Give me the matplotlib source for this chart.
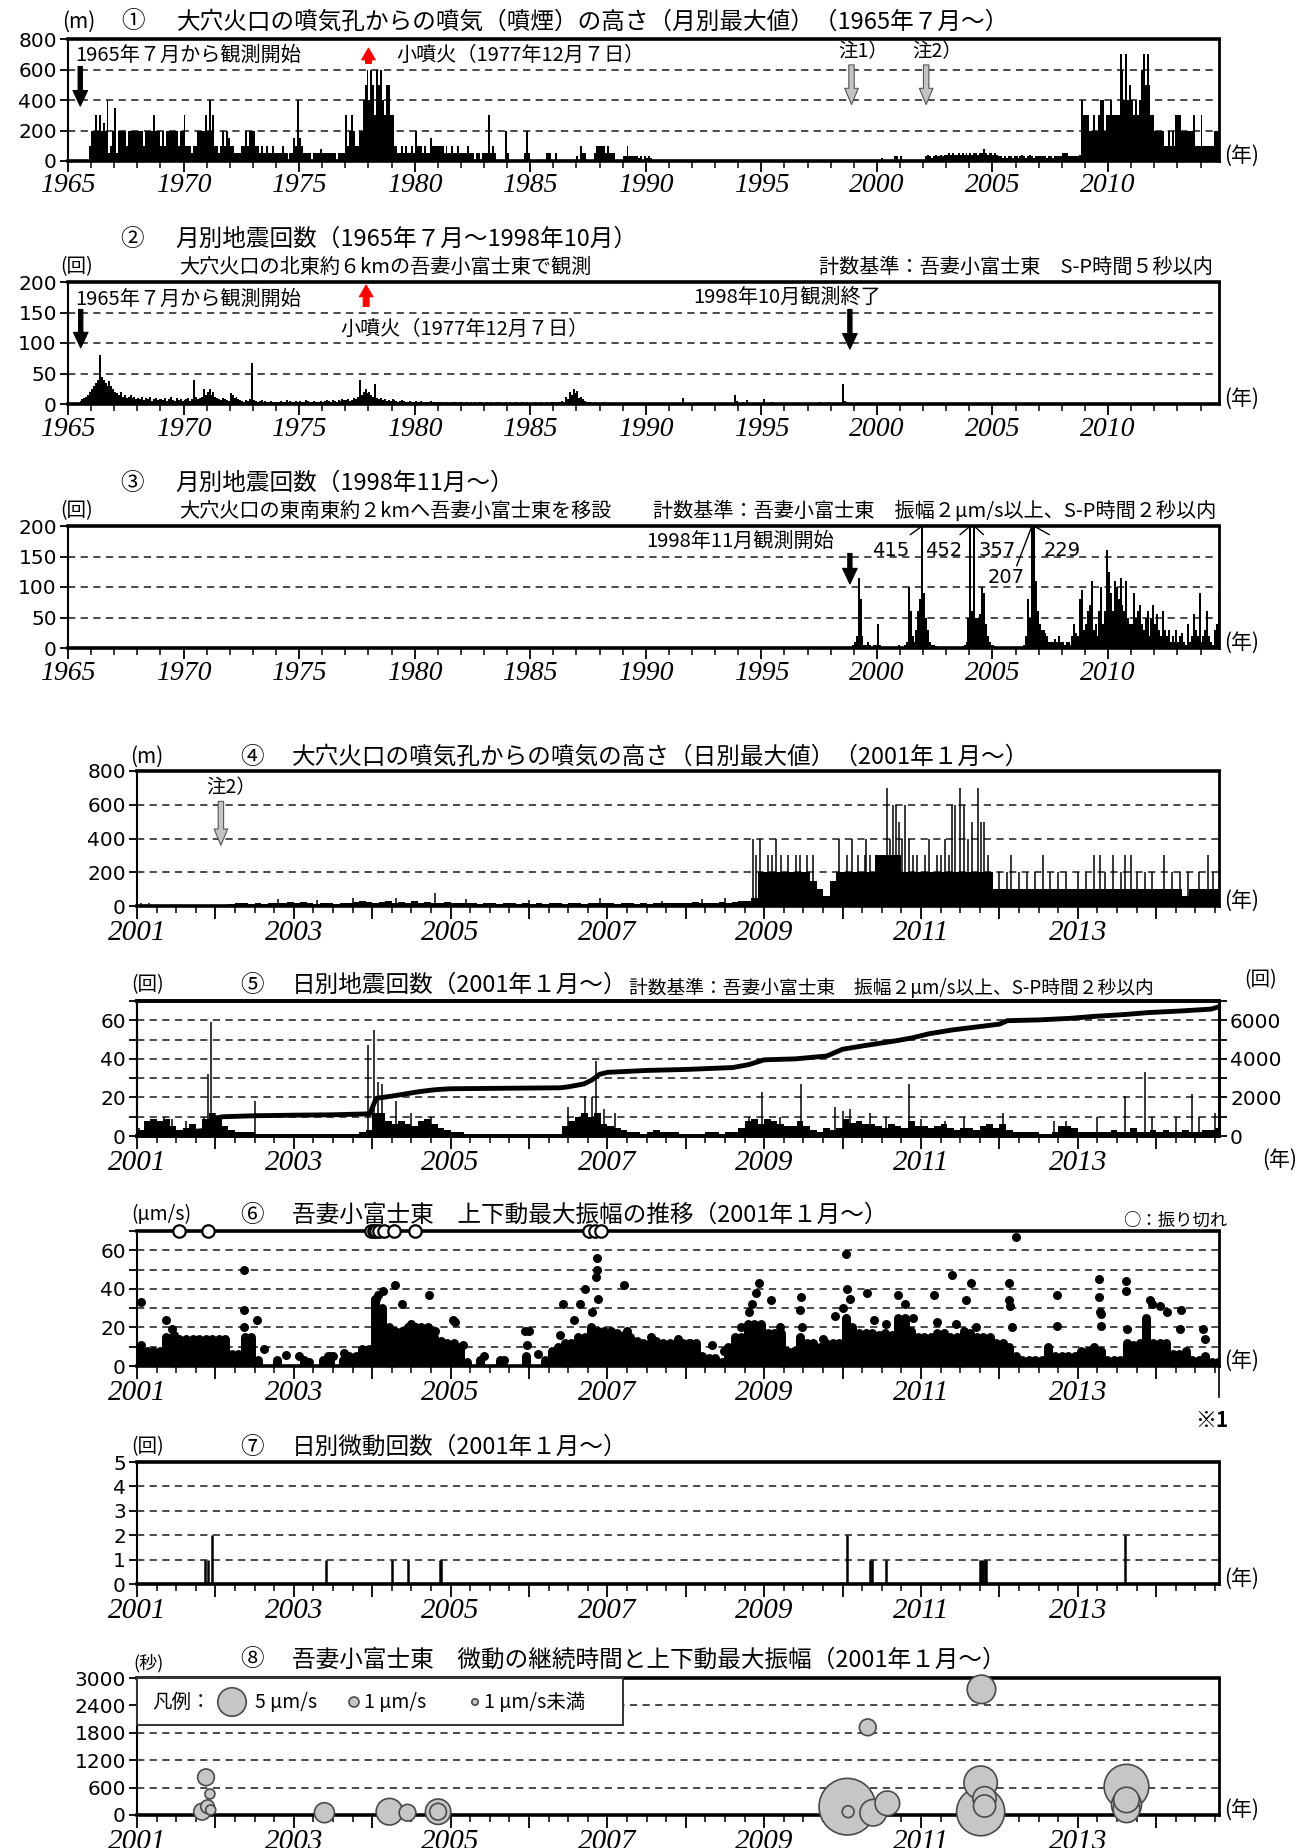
import numpy as np
import matplotlib
matplotlib.use("Agg")
import matplotlib.pyplot as plt
import matplotlib.transforms as mtransforms
from matplotlib.ticker import MultipleLocator
from matplotlib.patches import Rectangle

W, H = 1307, 1848
JP = ["Noto Sans CJK JP", "DejaVu Sans"]
plt.rcParams["font.family"] = JP

# ---------------- data ----------------
# (1) monthly max plume height (m), starting 1965-07
p1_start = 1965.5
p1_height = [
    0, 0, 0, 0, 0, 100,                                      # 1965 Jul-Dec
    200, 200, 300, 200, 300, 200, 250, 200, 400, 50, 100, 200,   # 1966
    350, 50, 200, 200, 200, 200, 100, 200, 200, 200, 200, 200,   # 1967
    200, 200, 200, 100, 200, 200, 200, 200, 300, 200, 200, 200,  # 1968
    100, 200, 100, 200, 200, 200, 200, 200, 200, 100, 200, 200,  # 1969
    300, 100, 100, 100, 50, 100, 100, 200, 200, 200, 200, 300,   # 1970
    200, 400, 200, 300, 100, 100, 50, 100, 200, 100, 200, 150,   # 1971
    100, 100, 50, 50, 50, 50, 100, 100, 200, 100, 200, 200,      # 1972
    200, 100, 100, 50, 100, 50, 50, 100, 50, 50, 100, 50,        # 1973
    50, 50, 50, 100, 50, 50, 0, 50, 50, 150, 100, 400,           # 1974
    150, 100, 50, 50, 50, 50, 0, 50, 50, 50, 50, 80,             # 1975
    50, 50, 50, 50, 50, 50, 50, 0, 50, 50, 50, 50,               # 1976
    300, 100, 200, 300, 200, 100, 100, 200, 200, 400, 500, 600,  # 1977
    400, 600, 500, 300, 600, 500, 600, 400, 300, 500, 500, 300,  # 1978
    300, 100, 100, 50, 50, 100, 50, 100, 50, 50, 100, 50,        # 1979
    200, 100, 100, 100, 50, 100, 50, 50, 150, 100, 100, 100,     # 1980
    100, 100, 100, 50, 100, 50, 50, 100, 50, 50, 100, 50,        # 1981
    50, 50, 50, 100, 50, 50, 50, 0, 50, 50, 0, 50,               # 1982
    50, 50, 300, 50, 100, 50, 0, 0, 0, 0, 0, 200,                # 1983
    50, 0, 0, 0, 0, 0, 0, 0, 0, 50, 200, 50,                     # 1984
    0, 0, 0, 0, 0, 0, 0, 0, 50, 50, 50, 0,                       # 1985
    0, 50, 0, 0, 0, 0, 0, 0, 0, 0, 0, 0,                         # 1986
    30, 0, 100, 50, 50, 0, 0, 0, 0, 50, 100, 100,                # 1987
    100, 100, 100, 50, 100, 50, 50, 50, 0, 0, 0, 0,              # 1988
    30, 30, 100, 30, 30, 30, 30, 30, 20, 30, 0, 30,              # 1989
    20, 30, 20, 0, 0, 0, 0, 0, 0, 0, 0, 0,                       # 1990
    0, 0, 0, 0, 0, 0, 0, 0, 0, 0, 0, 0,                          # 1991
    0, 0, 0, 0, 0, 0, 0, 0, 0, 0, 0, 0,                          # 1992
    0, 0, 0, 0, 0, 0, 0, 0, 0, 0, 0, 0,                          # 1993
    0, 0, 0, 0, 0, 0, 0, 0, 0, 0, 0, 0,                          # 1994
    0, 0, 0, 0, 0, 0, 0, 0, 0, 0, 0, 0,                          # 1995
    0, 0, 0, 0, 0, 0, 0, 0, 0, 0, 0, 0,                          # 1996
    0, 0, 0, 0, 0, 0, 0, 0, 0, 0, 0, 0,                          # 1997
    0, 0, 0, 0, 0, 0, 0, 0, 0, 0, 0, 0,                          # 1998
    0, 0, 0, 0, 0, 0, 0, 0, 0, 0, 0, 0,                          # 1999
    0, 0, 20, 0, 0, 0, 0, 0, 0, 30, 30, 0,                       # 2000
    30, 0, 0, 0, 0, 0, 0, 0, 0, 0, 0, 0,                         # 2001
    0, 30, 40, 30, 20, 30, 40, 30, 30, 40, 30, 40,               # 2002
    40, 50, 40, 50, 40, 40, 50, 40, 50, 40, 50, 40,              # 2003
    50, 40, 50, 50, 40, 50, 50, 80, 50, 40, 50, 50,              # 2004
    40, 50, 40, 30, 30, 20, 30, 20, 30, 30, 20, 30,              # 2005
    30, 20, 30, 40, 30, 20, 30, 40, 30, 20, 30, 30,              # 2006
    30, 30, 30, 30, 20, 30, 30, 20, 30, 30, 30, 30,              # 2007
    50, 50, 50, 30, 30, 30, 30, 30, 30, 40, 400, 300,            # 2008
    300, 300, 200, 200, 300, 200, 200, 300, 400, 400, 200, 300,  # 2009
    300, 400, 300, 300, 300, 300, 700, 600, 400, 700, 400, 500,  # 2010
    400, 300, 400, 300, 400, 600, 700, 500, 700, 500, 300, 300,  # 2011
    200, 200, 200, 200, 200, 100, 100, 200, 100, 200, 100, 300,  # 2012
    300, 300, 200, 200, 200, 200, 200, 200, 300, 100, 100, 100,  # 2013
    300, 100, 100, 100, 100, 100, 100, 200, 200, 200,            # 2014
]

# (2) monthly earthquake count, 1965-07 .. 1998-10
p2_start = 1965.5
p2_count = [
    5, 8, 10, 12, 15, 20,                                    # 1965
    25, 30, 35, 40, 80, 45, 40, 35, 30, 38, 30, 25,          # 1966
    20, 18, 15, 20, 12, 15, 10, 12, 15, 10, 12, 8,           # 1967
    10, 8, 12, 6, 10, 8, 12, 5, 8, 10, 6, 8,                 # 1968
    8, 6, 10, 5, 8, 12, 6, 5, 10, 6, 8, 5,                   # 1969
    6, 8, 10, 5, 8, 40, 12, 8, 10, 12, 25, 15,               # 1970
    20, 25, 15, 20, 12, 10, 8, 6, 10, 8, 6, 5,               # 1971
    18, 15, 10, 12, 8, 6, 5, 4, 6, 5, 8, 67,                 # 1972
    6, 5, 4, 5, 6, 4, 5, 3, 4, 5, 3, 4,                      # 1973
    4, 3, 5, 4, 3, 6, 4, 5, 3, 4, 5, 3,                      # 1974
    5, 4, 3, 6, 5, 4, 3, 5, 4, 3, 4, 5,                      # 1975
    4, 5, 6, 5, 4, 6, 5, 4, 6, 5, 8, 6,                      # 1976
    6, 8, 5, 7, 10, 8, 12, 40, 15, 20, 25, 18,               # 1977
    20, 15, 12, 33, 10, 8, 10, 6, 8, 5, 6, 5,                # 1978
    8, 6, 5, 4, 5, 6, 5, 4, 3, 5, 4, 3,                      # 1979
    5, 4, 3, 5, 4, 3, 4, 3, 5, 4, 3, 4,                      # 1980
    3, 4, 3, 2, 4, 3, 2, 3, 4, 3, 2, 3,                      # 1981
    3, 2, 3, 4, 2, 3, 2, 3, 2, 4, 3, 2,                      # 1982
    2, 3, 2, 3, 2, 2, 3, 2, 3, 2, 2, 3,                      # 1983
    2, 3, 2, 2, 3, 2, 2, 3, 2, 2, 3, 2,                      # 1984
    2, 2, 3, 2, 2, 3, 2, 2, 3, 2, 4, 3,                      # 1985
    3, 2, 4, 3, 5, 4, 12, 8, 20, 15, 25, 18,                 # 1986
    22, 10, 12, 8, 5, 4, 3, 3, 2, 3, 2, 2,                   # 1987
    2, 2, 3, 2, 1, 2, 2, 1, 2, 1, 2, 1,                      # 1988
    1, 2, 1, 1, 2, 1, 1, 2, 1, 1, 1, 2,                      # 1989
    1, 1, 2, 1, 1, 1, 2, 1, 1, 1, 1, 1,                      # 1990
    1, 1, 2, 1, 1, 1, 1, 10, 1, 1, 1, 1,                     # 1991
    1, 1, 1, 2, 1, 1, 1, 1, 1, 1, 1, 1,                      # 1992
    1, 1, 2, 1, 1, 1, 1, 1, 1, 1, 15, 5,                     # 1993
    2, 1, 4, 1, 6, 1, 2, 1, 1, 2, 1, 1,                      # 1994
    1, 8, 1, 2, 1, 3, 1, 1, 1, 2, 1, 1,                      # 1995
    1, 1, 2, 1, 1, 1, 1, 1, 2, 1, 1, 1,                      # 1996
    1, 2, 1, 1, 1, 1, 3, 1, 1, 1, 4, 1,                      # 1997
    1, 1, 1, 2, 1, 1, 32, 5, 3, 2,                           # 1998 Jan-Oct
]

# (3) monthly earthquake count, 1998-11 ..
p3_start = 1998 + 10 / 12
p3_count = [
    2, 5,                                                    # 1998 Nov-Dec
    10, 20, 115, 80, 20, 5, 5, 10, 5, 0, 5, 5,               # 1999
    40, 5, 2, 0, 0, 0, 0, 0, 0, 0, 0, 5,                     # 2000
    0, 2, 5, 10, 100, 60, 20, 10, 30, 60, 80, 415,           # 2001
    90, 50, 30, 10, 5, 5, 3, 2, 2, 2, 2, 2,                  # 2002
    2, 2, 2, 2, 2, 2, 2, 2, 3, 5, 10, 50,                    # 2003
    452, 60, 357, 50, 50, 55, 100, 90, 40, 20, 10, 5,        # 2004
    5, 3, 2, 2, 2, 2, 2, 2, 2, 2, 2, 2,                      # 2005
    2, 2, 2, 2, 5, 20, 80, 50, 207, 229, 110, 60,            # 2006
    40, 30, 30, 25, 20, 10, 10, 10, 15, 10, 20, 10,          # 2007
    10, 5, 10, 10, 5, 20, 40, 25, 20, 80, 95, 30,            # 2008
    40, 60, 70, 110, 30, 40, 20, 60, 100, 40, 60, 160,       # 2009
    125, 90, 60, 110, 100, 80, 115, 70, 60, 110, 50, 40,     # 2010
    40, 90, 50, 60, 70, 40, 30, 50, 60, 20, 50, 70,          # 2011
    40, 55, 30, 20, 60, 30, 20, 30, 10, 20, 10, 30,          # 2012
    10, 20, 25, 10, 5, 40, 10, 20, 55, 30, 20, 90,           # 2013
    10, 20, 30, 60, 20, 10, 5, 30, 40, 90,                   # 2014
]
p3_over_labels = ["415", "452", "357", "207", "229"]

# (4) daily max plume height (m) from 2001: monthly solid level + individual spikes
p4_start = 2001.0
p4_floor = [
    0, 0, 0, 0, 0, 0, 0, 0, 0, 0, 0, 0,                      # 2001
    0, 0, 10, 20, 15, 10, 20, 10, 15, 20, 20, 25,            # 2002
    20, 25, 20, 10, 15, 20, 10, 20, 15, 25, 30, 25,          # 2003
    20, 25, 30, 20, 25, 20, 30, 20, 25, 20, 20, 25,          # 2004
    20, 15, 20, 15, 10, 20, 15, 10, 15, 20, 10, 15,          # 2005
    10, 15, 10, 20, 15, 10, 15, 20, 10, 15, 20, 20,          # 2006
    15, 10, 20, 15, 10, 15, 10, 15, 20, 15, 20, 15,          # 2007
    20, 25, 20, 15, 20, 25, 20, 25, 30, 30, 50, 200,         # 2008
    200, 200, 200, 200, 200, 200, 200, 150, 100, 60, 150, 200,   # 2009
    200, 200, 200, 200, 200, 300, 300, 300, 300, 200, 200, 200,  # 2010
    200, 200, 200, 200, 200, 200, 200, 200, 200, 200, 200, 100,  # 2011
    100, 100, 100, 100, 100, 100, 100, 100, 100, 100, 100, 100,  # 2012
    100, 100, 100, 100, 100, 100, 100, 100, 100, 100, 100, 100,  # 2013
    100, 100, 100, 100, 60, 100, 100, 100, 100, 100,             # 2014
]
p4_spike_t = [2001.05, 2001.15, 2002.8, 2003.3, 2003.75, 2004.3, 2004.8, 2005.2, 2006.0,
              2006.9, 2007.7, 2008.2, 2008.5,
              2008.86, 2008.9, 2008.95, 2009.05, 2009.1, 2009.15, 2009.22, 2009.3, 2009.4,
              2009.45, 2009.55, 2009.62, 2009.95,
              2010.05, 2010.12, 2010.2, 2010.28, 2010.3, 2010.35, 2010.45, 2010.56, 2010.6,
              2010.64, 2010.68, 2010.72, 2010.76, 2010.8, 2010.85, 2010.9, 2010.95,
              2011.05, 2011.1, 2011.2, 2011.25, 2011.3, 2011.36, 2011.4, 2011.43, 2011.5,
              2011.55, 2011.6, 2011.65, 2011.72, 2011.76, 2011.8, 2011.85, 2011.9,
              2012.0, 2012.1, 2012.15, 2012.25, 2012.35, 2012.45, 2012.55, 2012.65, 2012.75,
              2012.85, 2013.0, 2013.1, 2013.2, 2013.28, 2013.35, 2013.45, 2013.55, 2013.6,
              2013.68, 2013.75, 2013.85, 2013.95, 2014.1, 2014.2, 2014.3, 2014.4, 2014.55,
              2014.66, 2014.72]
p4_spike_h = [20, 20, 40, 35, 50, 50, 80, 40, 35,
              50, 30, 40, 50,
              400, 300, 400, 300, 300, 400, 300, 300, 300,
              300, 300, 300, 400,
              300, 400, 300, 300, 400, 300, 300, 700, 400,
              600, 600, 500, 400, 600, 400, 300, 300,
              300, 400, 300, 300, 400, 300, 600, 600, 700,
              600, 400, 500, 700, 500, 500, 300, 200,
              200, 200, 300, 200, 200, 200, 300, 200, 200,
              200, 200, 200, 300, 300, 200, 300, 200, 300,
              300, 200, 200, 200, 300, 200, 200, 200, 200,
              300, 200]

# (5) daily earthquake count from 2001: monthly typical level + spikes, cumulative
p5_start = 2001.0
p5_floor = [
    3, 8, 9, 8, 9, 5, 3, 4, 6, 3, 9, 12,        # 2001
    10, 5, 3, 2, 2, 2, 1, 1, 0, 0, 1, 0,        # 2002
    0, 0, 1, 0, 0, 1, 0, 1, 0, 1, 2, 3,         # 2003
    12, 12, 8, 6, 8, 6, 5, 8, 9, 6, 4, 3,       # 2004
    2, 2, 1, 1, 1, 0, 0, 1, 0, 0, 1, 0,         # 2005
    1, 0, 1, 0, 1, 5, 8, 10, 12, 10, 12, 6,     # 2006
    5, 4, 3, 2, 2, 1, 2, 3, 2, 2, 2, 1,         # 2007
    1, 1, 1, 2, 2, 1, 2, 2, 4, 8, 9, 6,         # 2008
    9, 8, 6, 5, 5, 8, 5, 3, 2, 4, 3, 4,         # 2009
    9, 7, 8, 6, 6, 5, 4, 6, 5, 4, 8, 5,         # 2010
    5, 4, 5, 6, 4, 3, 4, 4, 3, 5, 6, 4,         # 2011
    6, 3, 2, 2, 2, 2, 1, 1, 2, 5, 5, 4,         # 2012
    2, 2, 2, 2, 2, 3, 2, 2, 4, 2, 2, 3,         # 2013
    2, 3, 2, 2, 3, 2, 2, 3, 3, 4,               # 2014
]
p5_spike_t = [2001.03, 2001.35, 2001.45, 2001.62, 2001.85, 2001.90, 2001.95, 2002.0, 2002.5,
              2003.95, 2004.02, 2004.07, 2004.12, 2004.3, 2004.5, 2004.75,
              2006.5, 2006.72, 2006.8, 2006.85, 2006.95, 2007.1,
              2008.8, 2008.97, 2009.2, 2009.47, 2009.9, 2010.0, 2010.1, 2010.35, 2010.55,
              2010.85, 2011.0, 2011.3, 2011.55, 2012.05, 2012.7, 2012.85, 2013.25, 2013.6,
              2013.85, 2013.95, 2014.25, 2014.45, 2014.55, 2014.75]
p5_spike_n = [4, 10, 9, 8, 10, 32, 59, 12, 18,
              47, 55, 28, 27, 18, 12, 10,
              15, 21, 20, 39, 14, 12,
              10, 23, 10, 27, 15, 13, 14, 12, 10,
              27, 9, 8, 10, 12, 8, 8, 10, 21,
              33, 10, 10, 22, 10, 12]
p5_cum_t = [2001.0, 2001.4, 2001.6, 2001.9, 2001.95, 2002.1, 2002.5, 2003.0, 2003.5, 2003.97,
            2004.05, 2004.3, 2004.6, 2004.8, 2005.0, 2006.4, 2006.5, 2006.7, 2006.8, 2006.9,
            2007.0, 2007.5, 2008.0, 2008.6, 2008.8, 2009.0, 2009.4, 2009.8, 2010.0, 2010.3,
            2010.7, 2010.9, 2011.1, 2011.4, 2011.7, 2012.0, 2012.1, 2012.5, 2012.9, 2013.2,
            2013.6, 2013.9, 2014.3, 2014.7, 2014.8]
p5_cum_n = [0, 120, 200, 300, 900, 1000, 1050, 1080, 1100, 1150,
            1950, 2100, 2300, 2400, 2450, 2500, 2550, 2700, 2900, 3200,
            3300, 3400, 3450, 3550, 3700, 3950, 4000, 4150, 4500, 4700,
            4950, 5100, 5300, 5500, 5650, 5800, 5980, 6020, 6100, 6200,
            6300, 6400, 6480, 6580, 6700]

# (6) max vertical amplitude (um/s): monthly dense-cluster top, scattered points, clipped
p6_start = 2001.0
p6_cluster = [
    8, 8, 8, 8, 15, 15, 14, 14, 14, 14, 14, 14,       # 2001
    14, 14, 6, 6, 15, 15, 3, 0, 0, 3, 0, 0,           # 2002
    0, 3, 0, 0, 3, 5, 0, 3, 5, 5, 9, 9,               # 2003
    35, 30, 20, 18, 18, 20, 20, 20, 20, 15, 13, 12,   # 2004
    12, 10, 2, 0, 3, 0, 0, 3, 0, 0, 0, 5,             # 2005
    0, 0, 3, 8, 10, 12, 12, 15, 15, 20, 18, 18,       # 2006
    18, 17, 16, 15, 13, 12, 12, 13, 12, 12, 12, 12,   # 2007
    12, 12, 5, 4, 4, 2, 10, 15, 15, 22, 22, 22,       # 2008
    17, 17, 17, 8, 8, 15, 12, 12, 10, 12, 12, 12,     # 2009
    25, 20, 17, 17, 17, 16, 17, 16, 25, 25, 18, 15,   # 2010
    15, 15, 17, 17, 15, 15, 18, 17, 15, 15, 15, 12,   # 2011
    12, 10, 5, 3, 3, 3, 3, 10, 5, 5, 5, 5,            # 2012
    8, 8, 10, 8, 3, 3, 3, 12, 11, 12, 25, 12,         # 2013
    12, 12, 6, 6, 8, 3, 3, 5, 2, 2,                   # 2014
]
p6_pt_t = [2001.05, 2001.05, 2001.37, 2001.45, 2001.47, 2001.75, 2001.85, 2002.36, 2002.36,
           2002.37, 2002.53, 2002.62, 2002.9, 2003.07, 2003.2, 2003.44, 2003.5, 2003.64,
           2004.05, 2004.08, 2004.14, 2004.29, 2004.38, 2004.5, 2004.55, 2004.73, 2004.8,
           2005.03, 2005.05, 2005.16, 2005.43, 2005.68, 2005.95, 2006.0, 2005.97, 2006.11,
           2006.4, 2006.43, 2006.57, 2006.65, 2006.72, 2006.8, 2006.87, 2006.87, 2006.85,
           2006.88, 2007.21, 2007.25, 2007.55, 2007.9, 2008.05, 2008.33, 2008.49,
           2008.7, 2008.8, 2008.85, 2008.9, 2008.93, 2009.08, 2009.2, 2009.45, 2009.47,
           2009.48, 2009.75, 2009.9, 2010.0, 2010.04, 2010.06, 2010.1, 2010.31, 2010.4,
           2010.55, 2010.7, 2010.8, 2010.9, 2011.16, 2011.2, 2011.39, 2011.45, 2011.57,
           2011.64, 2011.7, 2012.12, 2012.12, 2012.13, 2012.16, 2012.21, 2012.73, 2012.74,
           2013.27, 2013.27, 2013.28, 2013.29, 2013.3, 2013.62, 2013.62, 2013.63, 2013.92,
           2013.95, 2014.05, 2014.14, 2014.32, 2014.3, 2014.6, 2014.62]
p6_pt_v = [33, 11, 24, 19, 16, 13, 13, 50, 29,
           20, 24, 9, 5.5, 5, 2, 5, 5, 6.5,
           35, 37, 39, 42, 32, 22, 20, 37, 18,
           24, 23, 11, 5, 3, 18, 18, 11, 6,
           16, 32, 24, 32, 40, 28, 56, 50, 46,
           35, 42, 18, 15, 14, 12, 11, 8,
           20, 28, 32, 38, 43, 34, 20, 29, 36,
           20, 14, 26, 30, 58, 40, 35, 38, 24,
           22, 37, 32, 25, 37, 23, 47, 22, 34,
           43, 20, 43, 34, 31, 20, 67, 37, 21,
           45, 36, 28, 27, 21, 44, 39, 19, 34,
           32, 31, 28, 29, 19, 19, 14]
p6_clip_t = [2001.54, 2001.91, 2003.99, 2004.02, 2004.05, 2004.09, 2004.15, 2004.28, 2004.55,
             2006.76, 2006.84, 2006.92]
p6_clip_level = 70

# (7) daily tremor count
p7_t = [2001.87, 2001.9, 2001.96, 2003.41, 2004.25, 2004.46, 2004.86, 2004.88, 2010.06,
        2010.35, 2010.38, 2010.55, 2011.75, 2011.77, 2011.79, 2011.81, 2011.83, 2013.6]
p7_n = [1, 1, 2, 1, 1, 1, 1, 1, 2, 1, 1, 1, 1, 1, 1, 1, 1, 2]

# (8) tremor duration (s) and max vertical amplitude (um/s)
p8_t = [2001.83, 2001.88, 2001.90, 2001.93, 2001.94, 2003.39, 2004.22, 2004.45, 2004.84, 2004.84,
        2010.06, 2010.07, 2010.39, 2010.32, 2010.57, 2011.77, 2011.76, 2011.76, 2011.81, 2011.81,
        2013.62, 2013.62, 2013.62, 2013.62]
p8_dur = [72, 825, 182, 460, 110, 50, 72, 50, 72, 72,
          182, 72, 50, 1920, 256, 2752, 707, 72, 365, 197,
          620, 330, 219, 125]
p8_amp = [2.2, 2.2, 1.6, 1.0, 1.0, 2.9, 4.5, 2.2, 4.2, 2.2,
          14.4, 1.3, 4.5, 2.2, 4.0, 5.0, 6.4, 11.2, 3.7, 3.4,
          10.0, 4.2, 5.4, 4.5]
p8_legend_amp = [5, 1, 0.5]
p8_legend_txt = ["5 μm/s", "1 μm/s", "1 μm/s未満"]

# ---------------- figure ----------------
fig = plt.figure(figsize=(W / 100, H / 100), dpi=100)
PX = mtransforms.Affine2D().scale(1 / W, -1 / H).translate(0, 1) + fig.transFigure

GRID_C = "#3c3c3c"
RIGHT = 1219


def add_ax(left, top, right, bottom):
    return fig.add_axes([left / W, 1 - bottom / H, (right - left) / W, (bottom - top) / H])


def ftxt(x, y, s, size=14.5, ha="left", va="center", **kw):
    fig.text(x, y, s, transform=PX, fontsize=size, ha=ha, va=va, **kw)


def frame(ax):
    for side, lw in (("top", 2.6), ("bottom", 2.6), ("left", 1.5), ("right", 2.0)):
        ax.spines[side].set_linewidth(lw)


def setup_y(ax, ymax, label_vals, step, grid_vals, fmt=str):
    ax.set_ylim(0, ymax)
    ax.set_yticks(label_vals, labels=[fmt(v) for v in label_vals],
                  fontfamily="DejaVu Sans", fontsize=14.5)
    ax.yaxis.set_minor_locator(MultipleLocator(step))
    ax.tick_params(axis="y", which="both", direction="out", length=6, width=1.3, pad=2)
    for g in grid_vals:
        ax.axhline(g, color=GRID_C, lw=1.3, ls=(0, (4, 3)), zorder=0.8)


def setup_x_long(ax):
    ax.set_xlim(1965, 2014.8)
    majors = list(range(1965, 2011, 5))
    ax.set_xticks(majors, labels=[str(y) for y in majors], fontfamily="Liberation Serif",
                  fontstyle="italic", fontsize=20)
    ax.xaxis.set_minor_locator(MultipleLocator(1))
    ax.tick_params(axis="x", which="major", direction="out", length=8, width=1.3, pad=1)
    ax.tick_params(axis="x", which="minor", direction="out", length=5, width=1.1)


def setup_x_short(ax):
    ax.set_xlim(2001, 2014.8)
    majors = list(range(2001, 2015))
    ax.set_xticks(majors, labels=[str(y) if y % 2 == 1 else "" for y in majors],
                  fontfamily="Liberation Serif", fontstyle="italic", fontsize=21)
    ax.xaxis.set_minor_locator(MultipleLocator(0.25))
    ax.tick_params(axis="x", which="major", direction="out", length=9, width=1.3, pad=1)
    ax.tick_params(axis="x", which="minor", direction="out", length=5, width=1.1)


def months(start, n):
    return start + (np.arange(n) + 0.5) / 12


def bars(ax, start, vals, width=1 / 12):
    ax.bar(months(start, len(vals)), vals, width=width, color="k", lw=0,
           antialiased=False, zorder=2)


def arrow(ax, x, y_tail, y_head, fc="k", ec="k", tw=0.22, hw=0.75, hl=0.8, ms=14):
    ax.annotate("", xy=(x, y_head), xytext=(x, y_tail),
                arrowprops=dict(arrowstyle=f"simple,head_width={hw},head_length={hl},tail_width={tw}",
                                fc=fc, ec=ec, lw=0.8, mutation_scale=ms, shrinkA=0, shrinkB=0),
                zorder=6)


def nen(y):
    ftxt(1224, y, "(年)", size=15)


GRAY_ARROW = dict(fc="#c4c4c4", ec="#555555", tw=0.3, hw=0.75, hl=0.9, ms=13)
RED_ARROW = dict(fc="red", ec="red", tw=0.3, hw=0.7, hl=0.6, ms=14)

# ---------- (1) ----------
ax1 = add_ax(68, 39, RIGHT, 161)
bars(ax1, p1_start, p1_height)
setup_y(ax1, 800, [0, 200, 400, 600, 800], 200, [200, 400, 600])
setup_x_long(ax1)
frame(ax1)
ftxt(62, 22, "(m)", size=15)
ftxt(121, 22, "①", size=17)
ftxt(177, 22, "大穴火口の噴気孔からの噴気（噴煙）の高さ（月別最大値）（1965年７月～）", size=17)
ax1.text(1965.3, 690, "1965年７月から観測開始", fontsize=14.5, va="center")
arrow(ax1, 1965.53, 620, 360)
arrow(ax1, 1978.0, 640, 740, **RED_ARROW)
ax1.text(1979.2, 690, "小噴火（1977年12月７日）", fontsize=14.5, va="center")
ax1.text(1999.4, 720, "注1）", fontsize=14, va="center", ha="center")
ax1.text(2002.6, 720, "注2）", fontsize=14, va="center", ha="center")
arrow(ax1, 1998.9, 630, 370, **GRAY_ARROW)
arrow(ax1, 2002.13, 630, 370, **GRAY_ARROW)
nen(156)

# ---------- (2) ----------
ax2 = add_ax(68, 282, RIGHT, 404)
bars(ax2, p2_start, p2_count)
setup_y(ax2, 200, [0, 50, 100, 150, 200], 50, [50, 100, 150])
setup_x_long(ax2)
frame(ax2)
ftxt(120, 239, "②", size=17)
ftxt(175, 239, "月別地震回数（1965年７月～1998年10月）", size=17)
ftxt(60, 267, "(回)", size=14)
ftxt(179, 267, "大穴火口の北東約６kmの吾妻小富士東で観測", size=14.5)
ftxt(1213, 267, "計数基準：吾妻小富士東　S-P時間５秒以内", size=14.5, ha="right")
ax2.text(1965.3, 172, "1965年７月から観測開始", fontsize=14.5, va="center")
arrow(ax2, 1965.55, 155, 92)
arrow(ax2, 1977.9, 160, 195, **RED_ARROW)
ax2.text(1976.8, 122, "小噴火（1977年12月７日）", fontsize=14.5, va="center")
ax2.text(1996.1, 174, "1998年10月観測終了", fontsize=14.5, va="center", ha="center")
arrow(ax2, 1998.83, 155, 90)
nen(399)

# ---------- (3) ----------
ax3 = add_ax(68, 526, RIGHT, 648)
x3 = months(p3_start, len(p3_count))
bars(ax3, p3_start, p3_count)
setup_y(ax3, 200, [0, 50, 100, 150, 200], 50, [50, 100, 150])
setup_x_long(ax3)
frame(ax3)
ftxt(120, 483, "③", size=17)
ftxt(175, 483, "月別地震回数（1998年11月～）", size=17)
ftxt(60, 511, "(回)", size=14)
ftxt(179, 511, "大穴火口の東南東約２kmへ吾妻小富士東を移設", size=14.5)
ftxt(1216, 511, "計数基準：吾妻小富士東　振幅２μm/s以上、S-P時間２秒以内", size=14.5, ha="right")
ax3.text(1994.1, 174, "1998年11月観測開始", fontsize=14.5, va="center", ha="center")
arrow(ax3, 1998.83, 155, 105)
# labels for the months that run off the top
over_idx = [i for i, v in enumerate(p3_count) if v > 200]
lab_pos = [(2000.6, 160, 2001.45, 186), (2002.9, 160, 2003.6, 186), (2005.2, 160, 2004.6, 186),
           (2005.6, 116, 2006.05, 135), (2008.0, 160, 2007.45, 186)]
for i, lab, (lx, ly, ex, ey) in zip(over_idx, p3_over_labels, lab_pos):
    ax3.text(lx, ly, lab, fontsize=14, ha="center", va="center", fontfamily="DejaVu Sans")
    ax3.plot([ex, x3[i]], [ey, 200], color="k", lw=1.0, zorder=5, clip_on=False)
nen(643)

# ---------- (4) ----------
ax4 = add_ax(137, 771, RIGHT, 906)
bars(ax4, p4_start, p4_floor)
ax4.vlines(p4_spike_t, 0, p4_spike_h, color="k", lw=1.1, zorder=2)
setup_y(ax4, 800, [0, 200, 400, 600, 800], 200, [200, 400, 600])
setup_x_short(ax4)
frame(ax4)
ftxt(130, 757, "(m)", size=15)
ftxt(240, 757, "④", size=17)
ftxt(292, 757, "大穴火口の噴気孔からの噴気の高さ（日別最大値）（2001年１月～）", size=17)
ax4.text(2002.2, 700, "注2）", fontsize=14, va="center", ha="center")
arrow(ax4, 2002.07, 620, 360, **GRAY_ARROW)
nen(901)

# ---------- (5) ----------
ax5 = add_ax(137, 1001, RIGHT, 1136)
bars(ax5, p5_start, p5_floor)
ax5.vlines(p5_spike_t, 0, p5_spike_n, color="k", lw=1.1, zorder=2)
setup_y(ax5, 70, [0, 20, 40, 60], 10, [10, 20, 30, 40, 50, 60])
setup_x_short(ax5)
frame(ax5)
ax5b = ax5.twinx()
ax5b.plot(p5_cum_t, p5_cum_n, color="k", lw=3.5, solid_joinstyle="round", zorder=3)
ax5b.set_ylim(0, 7000)
ax5b.set_yticks([0, 2000, 4000, 6000], labels=["0", "2000", "4000", "6000"],
                fontfamily="DejaVu Sans", fontsize=14.5)
ax5b.yaxis.set_minor_locator(MultipleLocator(1000))
ax5b.tick_params(axis="y", which="both", direction="out", length=6, width=1.3, pad=2)
ax5b.set_xlim(2001, 2014.8)
frame(ax5b)
ftxt(131, 985, "(回)", size=14)
ftxt(240, 985, "⑤", size=17)
ftxt(292, 985, "日別地震回数（2001年１月～）", size=17)
ftxt(629, 988, "計数基準：吾妻小富士東　振幅２μm/s以上、S-P時間２秒以内", size=13.5)
ftxt(1244, 980, "(回)", size=14)
ftxt(1262, 1160, "(年)", size=15)

# ---------- (6) ----------
ax6 = add_ax(137, 1231, RIGHT, 1366)
dot = 9 * 0.72
ax6.vlines(months(p6_start, len(p6_cluster)), 0, p6_cluster, color="k", lw=dot,
           capstyle="round", zorder=2)
ax6.scatter(p6_pt_t, p6_pt_v, s=dot ** 2, color="k", lw=0, zorder=3)
ax6.scatter(p6_clip_t, [p6_clip_level] * len(p6_clip_t), s=80, facecolor="white",
            edgecolor="k", lw=1.6, zorder=6, clip_on=False)
setup_y(ax6, 70, [0, 20, 40, 60], 10, [10, 20, 30, 40, 50, 60])
setup_x_short(ax6)
frame(ax6)
ftxt(131, 1215, "(μm/s)", size=14)
ftxt(240, 1215, "⑥", size=17)
ftxt(292, 1215, "吾妻小富士東　上下動最大振幅の推移（2001年１月～）", size=17)
ftxt(1227, 1221, "○：振り切れ", size=12.5, ha="right")
end6 = mtransforms.blended_transform_factory(ax6.transData, ax6.transAxes)
ax6.plot([2014.8, 2014.8], [0, -0.23], transform=end6, color="k", lw=1.2, clip_on=False)
ftxt(1212, 1420, "※1", size=15, ha="center", fontweight="bold")
nen(1361)

# ---------- (7) ----------
ax7 = add_ax(137, 1462, RIGHT, 1584)
ax7.vlines(p7_t, 0, p7_n, color="k", lw=1.8, zorder=2)
setup_y(ax7, 5, [0, 1, 2, 3, 4, 5], 1, [1, 2, 3, 4])
setup_x_short(ax7)
frame(ax7)
ftxt(131, 1447, "(回)", size=14)
ftxt(240, 1447, "⑦", size=17)
ftxt(292, 1447, "日別微動回数（2001年１月～）", size=17)
nen(1579)


# ---------- (8) ----------
def bubble_s(amp):
    r = 5 * np.asarray(amp, dtype=float) ** 0.65      # radius in px
    return (2 * r * 0.72) ** 2


ax8 = add_ax(137, 1678, RIGHT, 1815)
order = np.argsort(p8_amp)[::-1]
ax8.scatter(np.array(p8_t)[order], np.array(p8_dur)[order], s=bubble_s(np.array(p8_amp)[order]),
            facecolor="#c6c6c6", edgecolor="#4a4a4a", lw=1.2, zorder=3, clip_on=False)
setup_y(ax8, 3000, [0, 600, 1200, 1800, 2400, 3000], 600, [600, 1200, 1800, 2400])
setup_x_short(ax8)
frame(ax8)
ax8.add_patch(Rectangle((137, 1678), 486, 47, transform=PX, facecolor="white",
                        edgecolor="#333333", lw=1.4, zorder=4, clip_on=False))
ax8.text(152, 1702, "凡例：", transform=PX, fontsize=14, va="center", zorder=6)
ax8.scatter([232, 354, 475], [1702, 1702, 1702], s=bubble_s(p8_legend_amp), transform=PX,
            facecolor="#c6c6c6", edgecolor="#4a4a4a", lw=1.2, zorder=5, clip_on=False)
for x, t in zip([255, 364, 484], p8_legend_txt):
    ax8.text(x, 1702, t, transform=PX, fontsize=14, va="center", zorder=6)
ftxt(133, 1663, "(秒)", size=13)
ftxt(240, 1660, "⑧", size=17)
ftxt(292, 1660, "吾妻小富士東　微動の継続時間と上下動最大振幅（2001年１月～）", size=17)
nen(1810)

fig.savefig("out.png", dpi=100)
